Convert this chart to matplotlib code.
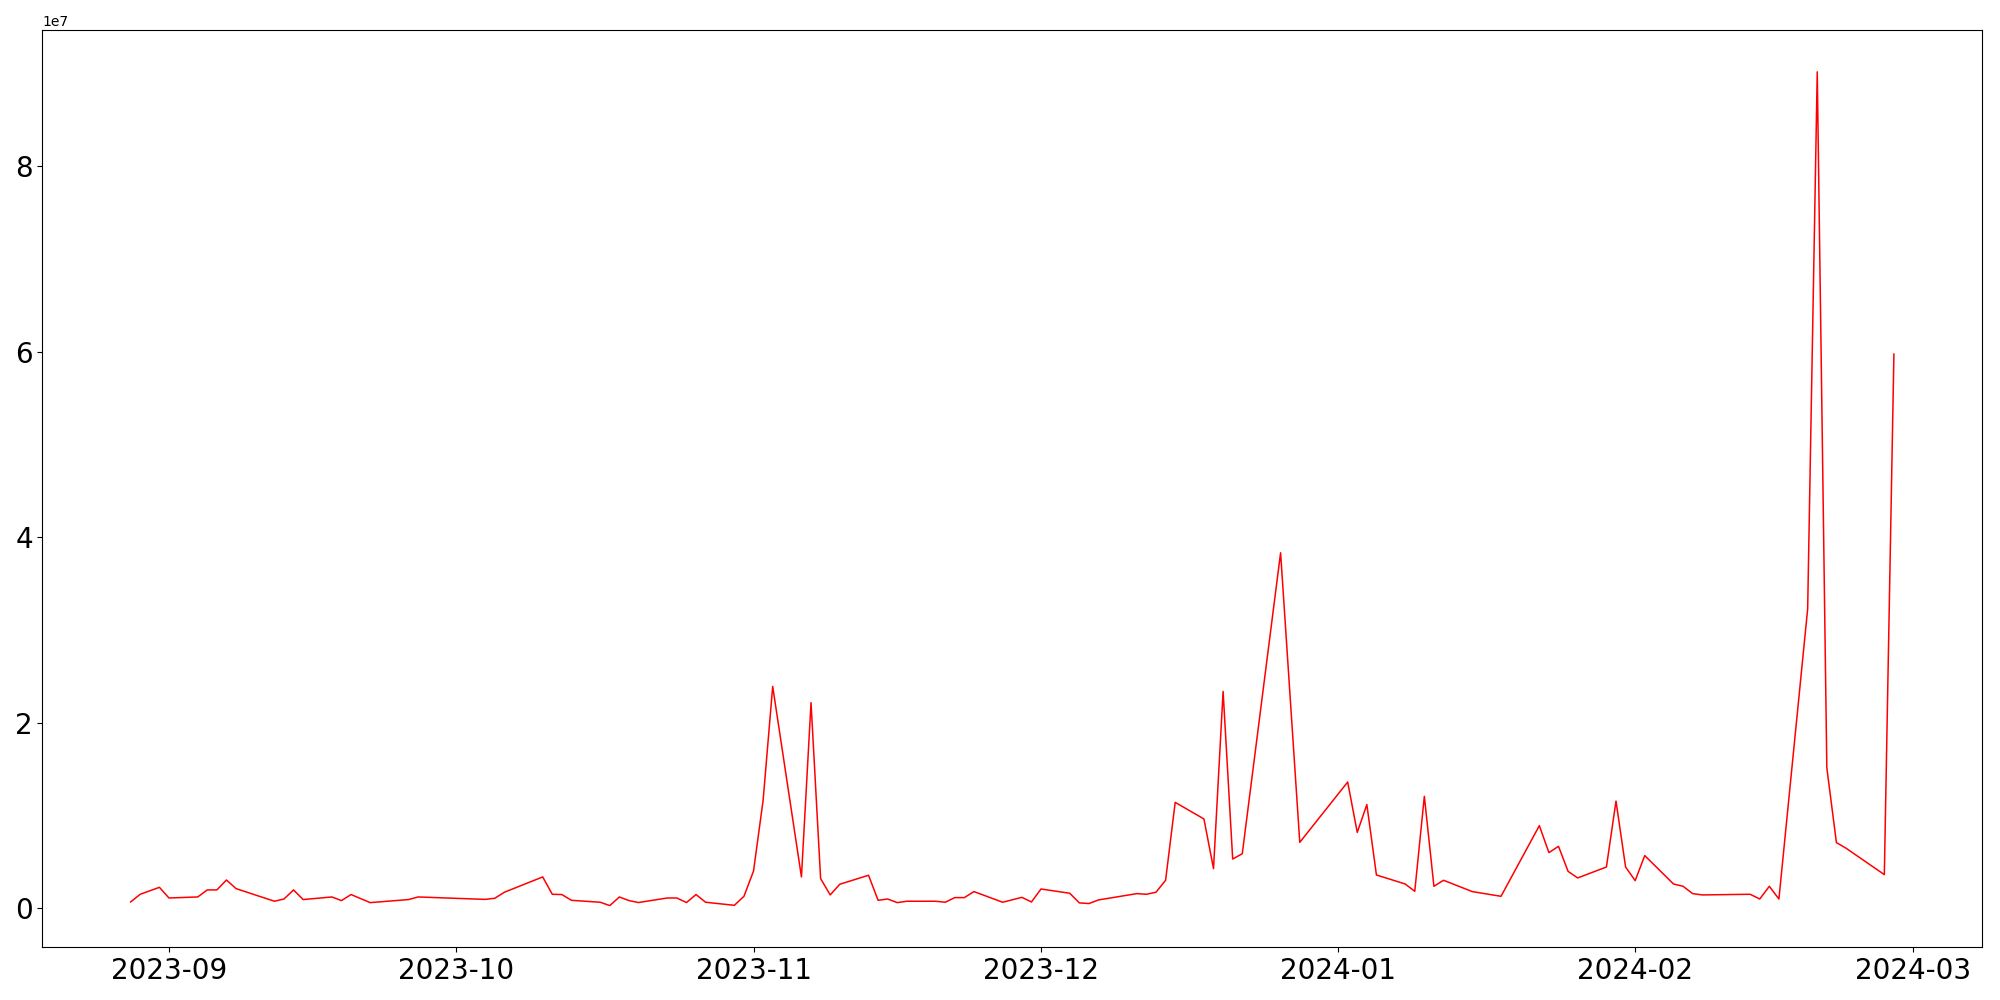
import numpy as np
import pandas as pd
import matplotlib
matplotlib.use("Agg")
import matplotlib.pyplot as plt

# daily values (in millions)
dates = [
    "2023-08-28", "2023-08-29", "2023-08-31", "2023-09-01", "2023-09-04", "2023-09-05",
    "2023-09-06", "2023-09-07", "2023-09-08", "2023-09-12", "2023-09-13", "2023-09-14",
    "2023-09-15", "2023-09-18", "2023-09-19", "2023-09-20", "2023-09-22", "2023-09-26",
    "2023-09-27", "2023-10-04", "2023-10-05", "2023-10-06", "2023-10-10", "2023-10-11",
    "2023-10-12", "2023-10-13", "2023-10-16", "2023-10-17", "2023-10-18", "2023-10-19",
    "2023-10-20", "2023-10-23", "2023-10-24", "2023-10-25", "2023-10-26", "2023-10-27",
    "2023-10-30", "2023-10-31", "2023-11-01", "2023-11-02", "2023-11-03", "2023-11-06",
    "2023-11-07", "2023-11-08", "2023-11-09", "2023-11-10", "2023-11-13", "2023-11-14",
    "2023-11-15", "2023-11-16", "2023-11-17", "2023-11-20", "2023-11-21", "2023-11-22",
    "2023-11-23", "2023-11-24", "2023-11-27", "2023-11-29", "2023-11-30", "2023-12-01",
    "2023-12-04", "2023-12-05", "2023-12-06", "2023-12-07", "2023-12-11", "2023-12-12",
    "2023-12-13", "2023-12-14", "2023-12-15", "2023-12-18", "2023-12-19", "2023-12-20",
    "2023-12-21", "2023-12-22", "2023-12-26", "2023-12-28", "2024-01-02", "2024-01-03",
    "2024-01-04", "2024-01-05", "2024-01-08", "2024-01-09", "2024-01-10", "2024-01-11",
    "2024-01-12", "2024-01-15", "2024-01-18", "2024-01-22", "2024-01-23", "2024-01-24",
    "2024-01-25", "2024-01-26", "2024-01-29", "2024-01-30", "2024-01-31", "2024-02-01",
    "2024-02-02", "2024-02-05", "2024-02-06", "2024-02-07", "2024-02-08", "2024-02-13",
    "2024-02-14", "2024-02-15", "2024-02-16", "2024-02-19", "2024-02-20", "2024-02-21",
    "2024-02-22", "2024-02-23", "2024-02-27", "2024-02-28",
]
values_m = [
    0.70, 1.53, 2.28, 1.13, 1.24, 2.00,
    2.00, 3.07, 2.14, 0.78, 1.02, 2.00,
    0.96, 1.24, 0.85, 1.50, 0.63, 0.96,
    1.24, 0.98, 1.10, 1.75, 3.40, 1.53,
    1.50, 0.88, 0.67, 0.31, 1.24, 0.85,
    0.64, 1.13, 1.13, 0.64, 1.50, 0.67,
    0.34, 1.31, 4.04, 11.66, 23.94, 3.40,
    22.19, 3.22, 1.46, 2.61, 3.58, 0.88,
    1.02, 0.63, 0.78, 0.78, 0.67, 1.17,
    1.17, 1.82, 0.67, 1.20, 0.70, 2.10,
    1.64, 0.60, 0.53, 0.92, 1.60, 1.53,
    1.75, 3.04, 11.44, 9.65, 4.30, 23.40,
    5.33, 5.90, 38.35, 7.13, 13.63, 8.20,
    11.20, 3.61, 2.64, 1.85, 12.09, 2.39,
    3.04, 1.82, 1.31, 8.93, 6.02, 6.70,
    4.00, 3.29, 4.47, 11.58, 4.47, 3.00,
    5.70, 2.64, 2.39, 1.60, 1.46, 1.53,
    1.02, 2.39, 1.02, 32.30, 90.20, 15.16,
    7.10, 6.50, 3.65, 59.77,
]

x = pd.to_datetime(dates)
y = np.array(values_m) * 1e6

fig, ax = plt.subplots(figsize=(20, 10), dpi=100)
ax.plot(x, y, color="red", linewidth=1.1)
ax.tick_params(axis="both", labelsize=20)

plt.tight_layout()
plt.savefig("out.png")
